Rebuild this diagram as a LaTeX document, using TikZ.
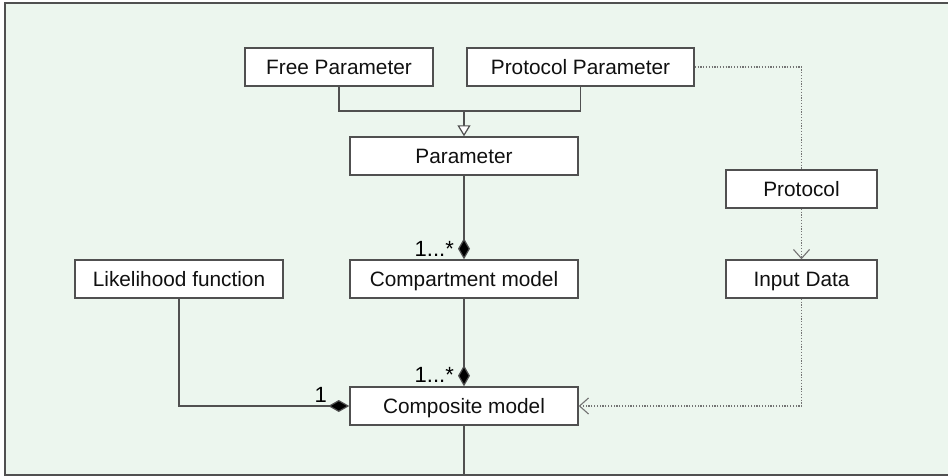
\documentclass[tikz,border=0pt]{standalone}
\usepackage{fontspec}
\setmainfont{Liberation Sans}
\usetikzlibrary{arrows.meta}
\definecolor{panelgreen}{HTML}{ECF6EE}
\definecolor{boxline}{HTML}{505050}
\definecolor{inktext}{HTML}{101010}
\tikzset{
  umlbox/.style={draw=boxline, line width=1.4pt, fill=white, text=inktext,
    minimum height=38pt, inner sep=0pt, text height=15pt, text depth=0pt,
    font=\fontsize{20.8}{24}\selectfont},
  link/.style={draw=boxline, line width=1.2pt},
  dep/.style={draw=black!55, line width=1.1pt, dash pattern=on 1.3pt off 1.5pt},
  mult/.style={inner sep=0pt, text=black, font=\fontsize{22}{26}\selectfont},
  part/.style={-{Diamond[length=21pt,width=12pt,fill=black]}},
  isa/.style={-{Triangle[open,length=11pt,width=13pt,fill=white]}},
  uses/.style={-{Straight Barb[length=9pt,width=16pt,line width=1.1pt]}},
}
\begin{document}
\begin{tikzpicture}[x=1pt,y=-1pt]
    \useasboundingbox (0,0) rectangle (948,476);
    % Panel
    \fill[white] (0,0) rectangle (948,476);
    \fill[panelgreen] (5,3) rectangle (948,475.5);
    \draw[boxline, line width=1.5pt] (948,3) -- (5,3) -- (5,475.2) -- (948,475.2);

    % Classes
    \node[umlbox, minimum width=188pt] (free) at (339,67) {Free Parameter};
    \node[umlbox, minimum width=227pt] (pparam) at (580.5,67) {Protocol Parameter};
    \node[umlbox, minimum width=228pt] (param) at (464,156) {Parameter};
    \node[umlbox, minimum width=151pt] (protocol) at (801.5,189) {Protocol};
    \node[umlbox, minimum width=208pt] (likelihood) at (179,279) {Likelihood function};
    \node[umlbox, minimum width=228pt] (compart) at (464,279) {Compartment model};
    \node[umlbox, minimum width=151pt] (input) at (801.5,279) {Input Data};
    \node[umlbox, minimum width=228pt] (composite) at (464,406) {Composite model};

    % Generalisation
    \coordinate (gen) at (464,111);
    \draw[link] (free.south) |- (gen) -| (pparam.south);
    \draw[link, isa] (gen) -- (param.north);

    % Composition
    \draw[link, part] (param.south) -- (compart.north);
    \node[mult, anchor=south east] (m1) at (454,257) {1...*};
    \draw[link, part] (compart.south) -- (composite.north);
    \node[mult, anchor=south east] (m2) at (454,383) {1...*};
    \draw[link, part] (likelihood.south) |- (composite.west);
    \node[mult, anchor=south east] (m3) at (327,403) {1};

    % Dependencies
    \draw[dep] (pparam.east) -| (protocol.north);
    \draw[dep, uses] (protocol.south) -- (input.north);
    \draw[dep, uses] (input.south) |- (composite.east);

    % Continues below
    \coordinate (below) at (464,475);
    \draw[link] (composite.south) -- (below);
\end{tikzpicture}
\end{document}
